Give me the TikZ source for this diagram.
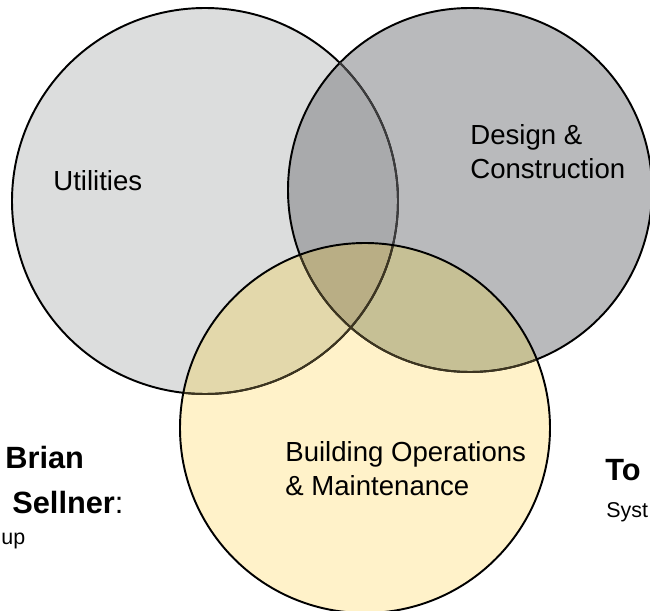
\documentclass[tikz,border=0pt]{standalone}
\usepackage{fontspec}
\setmainfont{Liberation Sans}
\usetikzlibrary{positioning}
\definecolor{utilfill}{HTML}{DCDDDD}
\definecolor{desgfill}{HTML}{B9BABC}
\definecolor{bldgfill}{HTML}{FFF2C9}
\definecolor{udfill}{HTML}{A9AAAC}
\definecolor{ubfill}{HTML}{E3D8AB}
\definecolor{dbfill}{HTML}{C6C095}
\definecolor{udbfill}{HTML}{B9AE85}
\definecolor{greyedge}{HTML}{3C3C3D}
\definecolor{oliveedge}{HTML}{3D3520}
\tikzset{
  ring/.style={line width=1.1pt},
  lbl/.style={inner sep=0pt, anchor=west, align=left, font=\fontsize{15.7}{19.2}\selectfont},
  who/.style={inner sep=0pt, anchor=west, font=\fontsize{17.5}{21}\selectfont\bfseries},
  role/.style={inner sep=0pt, anchor=west, font=\fontsize{12.2}{14}\selectfont}
}
\def\utilc{(205,-201) circle (193)}
\def\desgc{(470,-190) circle (182)}
\def\bldgc{(365,-428) circle (185)}

\begin{document}
\begin{tikzpicture}[x=0.02cm,y=0.02cm]
   \useasboundingbox (0,0) rectangle (650,-611);
   \clip (0,0) rectangle (650,-611);
   % plain fills
   \fill[utilfill] \utilc;
   \fill[desgfill] \desgc;
   \fill[bldgfill] \bldgc;
   % overlaps
   \begin{scope} \clip \utilc; \fill[udfill] \desgc; \end{scope}
   \begin{scope} \clip \utilc; \fill[ubfill] \bldgc; \end{scope}
   \begin{scope} \clip \desgc; \fill[dbfill] \bldgc; \end{scope}
   \begin{scope} \clip \utilc; \clip \desgc; \fill[udbfill] \bldgc; \end{scope}
   % outlines
   \draw[ring] \utilc \desgc;
   \begin{scope} \clip \desgc; \draw[ring,greyedge] \utilc; \end{scope}
   \begin{scope} \clip \bldgc; \draw[ring,oliveedge] \utilc \desgc; \end{scope}
   \draw[ring] \bldgc;
   % labels
   \node[lbl] (util) at (53,-181) {Utilities};
   \node[lbl] (desg) at (470,-152) {Design \&\\Construction};
   \node[lbl] (bldg) at (285,-469) {Building Operations\\\& Maintenance};
   \node[who] (brian) at (5,-458) {Brian};
   \node[who] (sellner) at (12,-503) {Sellner\textmd{:}};
   \node[role] (grp) at (1,-541) {up};
   \node[who] (tor) at (605,-470) {To};
   \node[role] (syst) at (606,-512) {Syst};
  \end{tikzpicture}
\end{document}
